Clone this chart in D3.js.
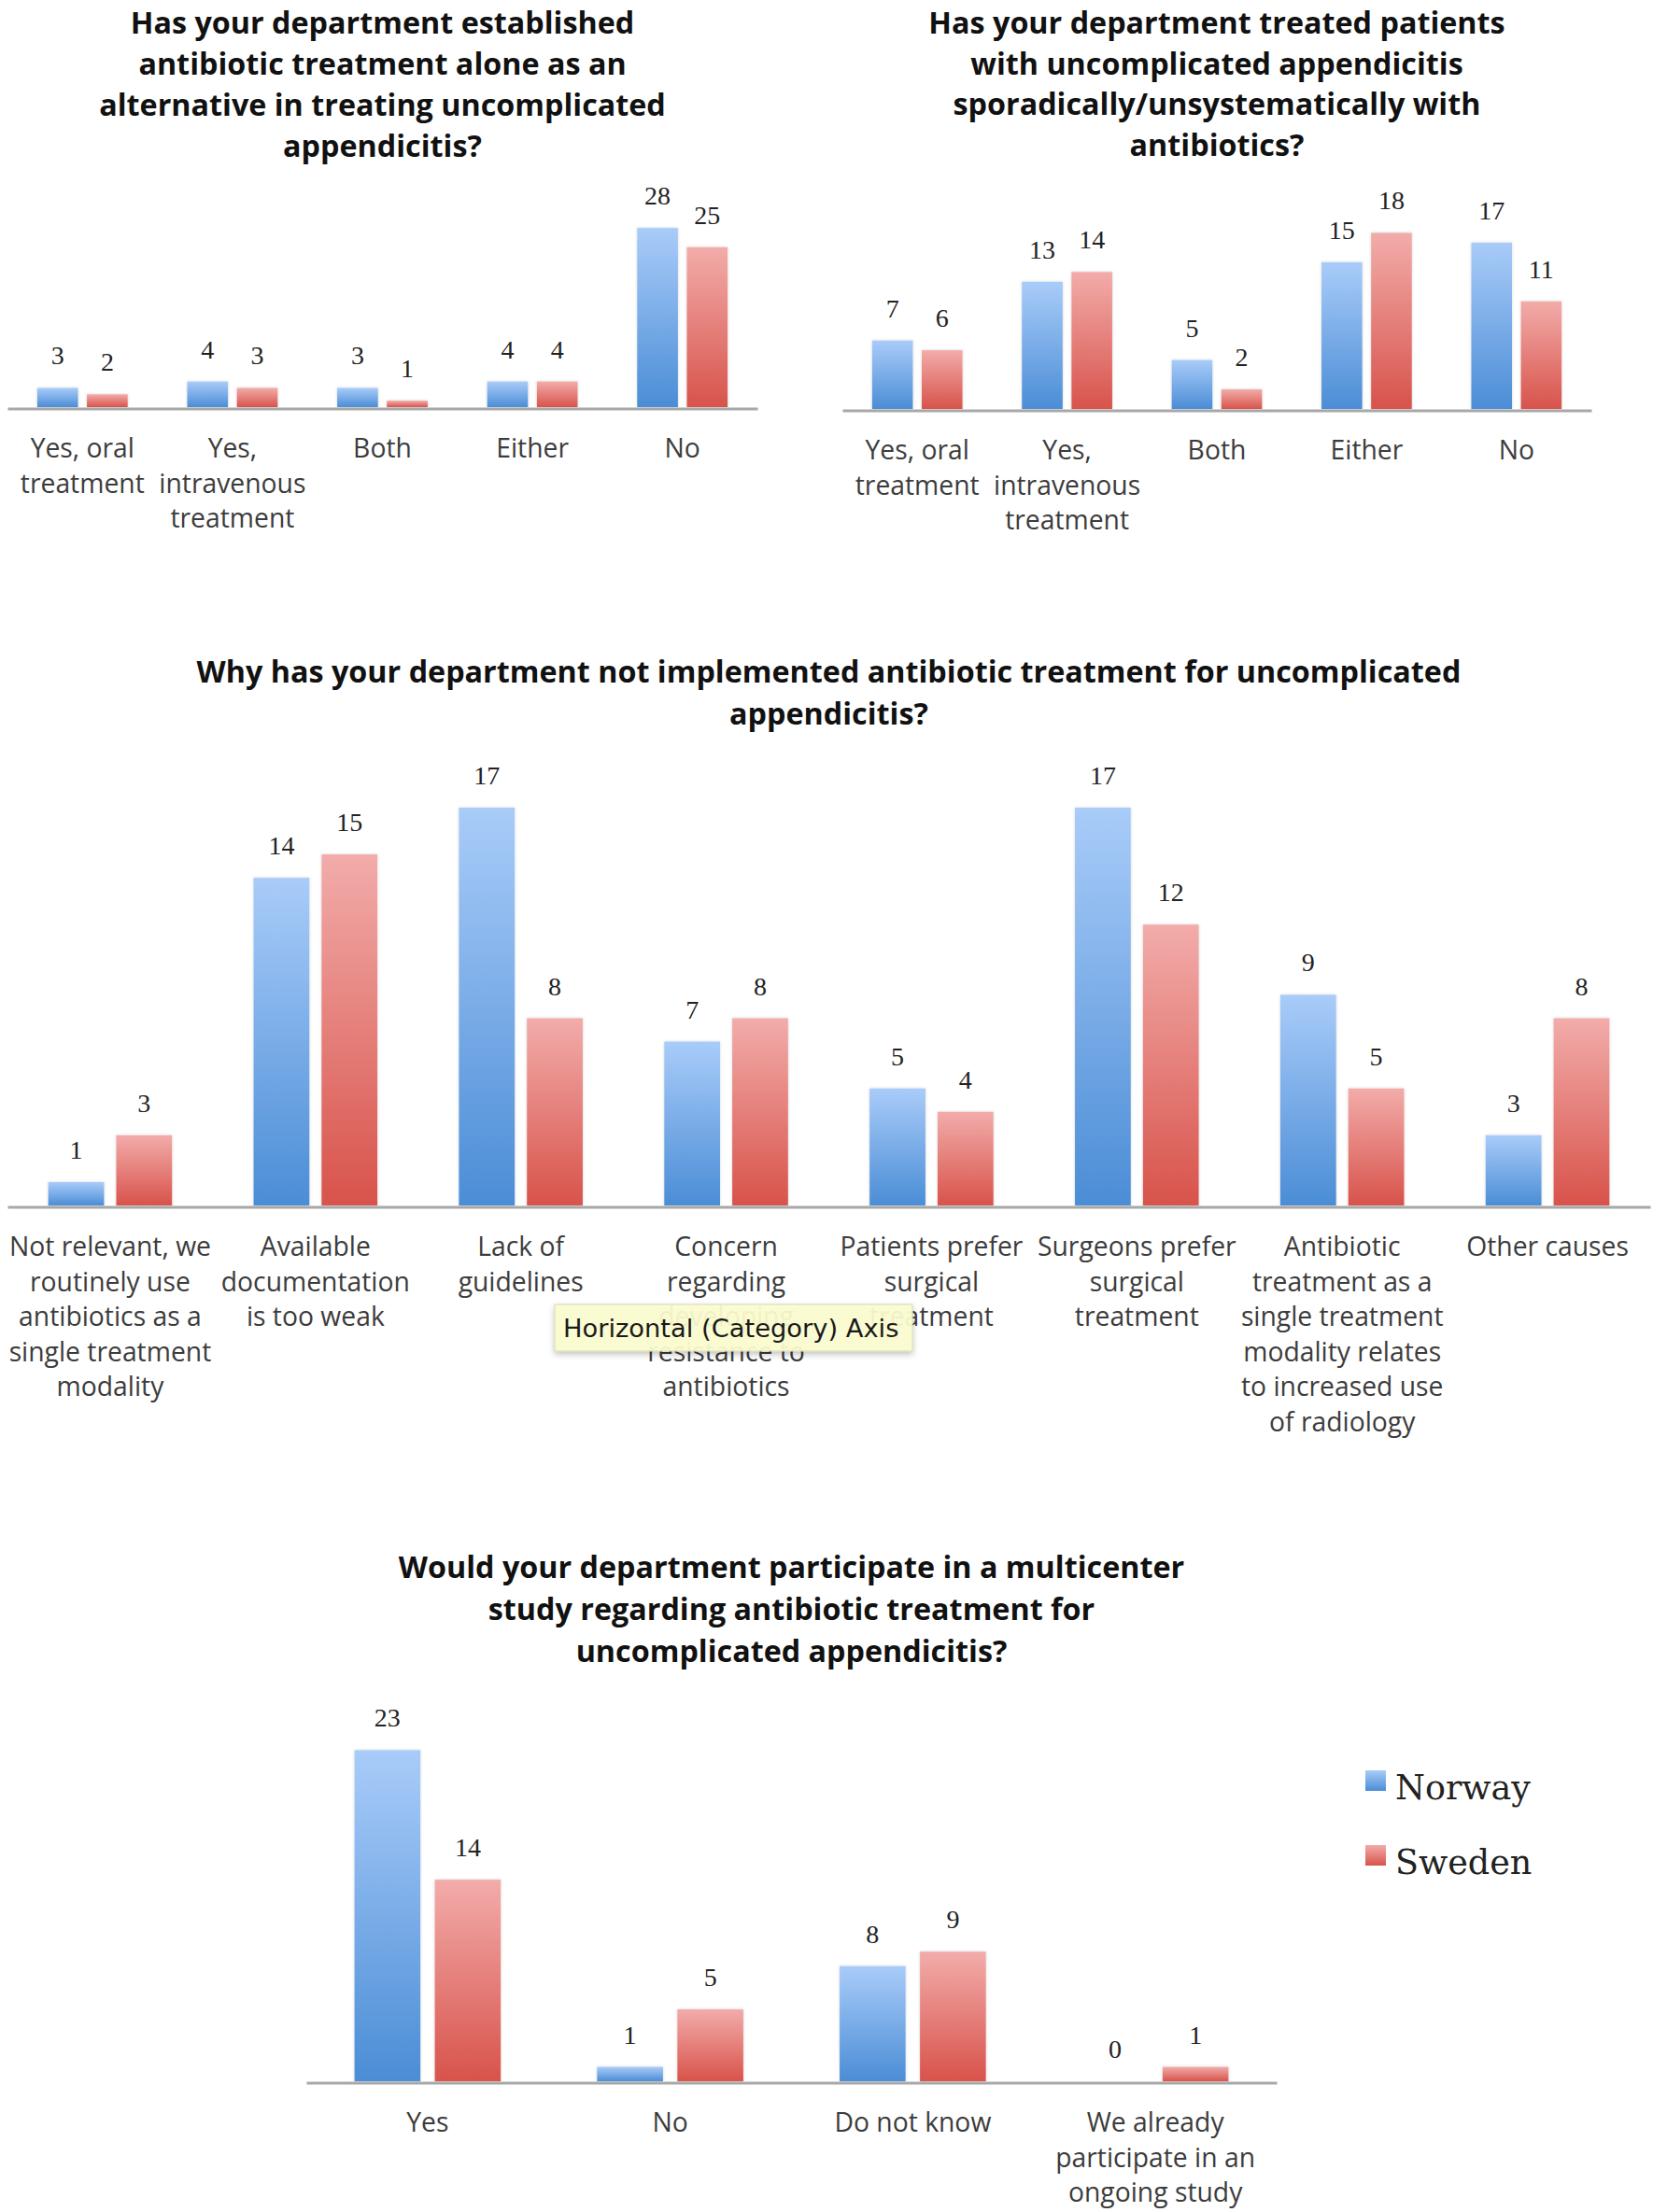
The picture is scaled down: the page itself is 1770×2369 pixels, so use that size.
<!DOCTYPE html>
<html>
<head>
<meta charset="utf-8">
<script src="https://cdn.jsdelivr.net/npm/d3@7"></script>
<style>
  html, body { margin: 0; padding: 0; background: #ffffff; }
  svg { display: block; }
</style>
</head>
<body>
<svg id="chart" width="1770" height="2369"></svg>
<script>
// ---------------- DATA ----------------
const seriesNames = ["Norway", "Sweden"];

const q1Title = ["Has your department established", "antibiotic treatment alone as an",
                 "alternative in treating uncomplicated", "appendicitis?"];
const q1Categories = ["Yes, oral\ntreatment", "Yes,\nintravenous\ntreatment", "Both", "Either", "No"];
const q1Norway = [3, 4, 3, 4, 28];
const q1Sweden = [2, 3, 1, 4, 25];

const q2Title = ["Has your department treated patients", "with uncomplicated appendicitis",
                 "sporadically/unsystematically with", "antibiotics?"];
const q2Categories = ["Yes, oral\ntreatment", "Yes,\nintravenous\ntreatment", "Both", "Either", "No"];
const q2Norway = [7, 13, 5, 15, 17];
const q2Sweden = [6, 14, 2, 18, 11];

const q3Title = ["Why has your department not implemented antibiotic treatment for uncomplicated",
                 "appendicitis?"];
const q3Categories = [
  "Not relevant, we\nroutinely use\nantibiotics as a\nsingle treatment\nmodality",
  "Available\ndocumentation\nis too weak",
  "Lack of\nguidelines",
  "Concern\nregarding\ndeveloping\nresistance to\nantibiotics",
  "Patients prefer\nsurgical\ntreatment",
  "Surgeons prefer\nsurgical\ntreatment",
  "Antibiotic\ntreatment as a\nsingle treatment\nmodality relates\nto increased use\nof radiology",
  "Other causes"
];
const q3Norway = [1, 14, 17, 7, 5, 17, 9, 3];
const q3Sweden = [3, 15, 8, 8, 4, 12, 5, 8];

const q4Title = ["Would your department participate in a multicenter",
                 "study regarding antibiotic treatment for", "uncomplicated appendicitis?"];
const q4Categories = ["Yes", "No", "Do not know", "We already\nparticipate in an\nongoing study"];
const q4Norway = [23, 1, 8, 0];
const q4Sweden = [14, 5, 9, 1];

const tooltipText = "Horizontal (Category) Axis";

// ---------------- LAYOUT ----------------
const charts = [
  { title: q1Title, cats: q1Categories, vals: [q1Norway, q1Sweden],
    x0: 8, x1: 811, base: 436, yMax: 30, top: 230.5, titleY: 36, titleStep: 44 },
  { title: q2Title, cats: q2Categories, vals: [q2Norway, q2Sweden],
    x0: 902, x1: 1704, base: 438, yMax: 20, top: 228.4, titleY: 36, titleStep: 43.5 },
  { title: q3Title, cats: q3Categories, vals: [q3Norway, q3Sweden],
    x0: 8, x1: 1767, base: 1291, yMax: 18, top: 839.9, titleY: 731, titleStep: 45 },
  { title: q4Title, cats: q4Categories, vals: [q4Norway, q4Sweden],
    x0: 328, x1: 1367, base: 2229, yMax: 25, top: 1843.5, titleY: 1690, titleStep: 45 }
];

const svg = d3.select("#chart");
const defs = svg.append("defs");
const gradStops = {
  Norway: ["#a9ccf9", "#4b8dd6"],
  Sweden: ["#f2acaa", "#d8534b"]
};
seriesNames.forEach(s => {
  const g = defs.append("linearGradient").attr("id", "grad-" + s)
    .attr("x1", 0).attr("y1", 0).attr("x2", 0).attr("y2", 1);
  g.append("stop").attr("offset", "0%").attr("stop-color", gradStops[s][0]);
  g.append("stop").attr("offset", "100%").attr("stop-color", gradStops[s][1]);
});
const f = defs.append("filter").attr("id", "barShadow")
  .attr("x", "-20%").attr("y", "-20%").attr("width", "140%").attr("height", "140%");
f.append("feDropShadow").attr("dx", 0).attr("dy", 0).attr("stdDeviation", 1.5)
  .attr("flood-color", "#000").attr("flood-opacity", 0.18);
const f2 = defs.append("filter").attr("id", "tipShadow")
  .attr("x", "-10%").attr("y", "-30%").attr("width", "120%").attr("height", "180%");
f2.append("feDropShadow").attr("dx", 0).attr("dy", 3).attr("stdDeviation", 3)
  .attr("flood-color", "#000").attr("flood-opacity", 0.25);

const titleFont = "'Open Sans', sans-serif";
const labelFont = "'Open Sans', sans-serif";
const valueFont = "'Liberation Serif', 'Times New Roman', serif";

charts.forEach((c, ci) => {
  const g = svg.append("g");
  const data = c.cats.map((cat, i) => ({ cat, i, vals: seriesNames.map((s, k) => ({ s, v: c.vals[k][i] })) }));

  const x = d3.scaleBand().domain(d3.range(c.cats.length)).range([c.x0, c.x1]).padding(0);
  const xs = d3.scaleBand().domain(seriesNames).range([0, x.bandwidth()])
    .paddingInner(0.18).paddingOuter(0.6);
  const y = d3.scaleLinear().domain([0, c.yMax]).range([c.base, c.top]);

  // title
  const cx = (c.x0 + c.x1) / 2;
  g.append("text")
    .attr("x", cx).attr("y", c.titleY)
    .attr("text-anchor", "middle")
    .style("font-family", titleFont).style("font-weight", 700).style("font-size", "32.3px")
    .style("fill", "#111")
    .selectAll("tspan").data(c.title).join("tspan")
    .attr("x", cx).attr("dy", (d, i) => i === 0 ? 0 : c.titleStep)
    .text(d => d);

  // bars
  const groups = g.selectAll("g.cat").data(data).join("g").attr("class", "cat")
    .attr("transform", d => `translate(${x(d.i)},0)`);
  groups.selectAll("rect").data(d => d.vals.filter(v => v.v > 0)).join("rect")
    .attr("x", d => xs(d.s))
    .attr("width", xs.bandwidth())
    .attr("y", d => y(d.v))
    .attr("height", d => y(0) - y(d.v))
    .attr("fill", d => `url(#grad-${d.s})`)
    .attr("filter", "url(#barShadow)");

  // value labels
  groups.selectAll("text.val").data(d => d.vals).join("text").attr("class", "val")
    .attr("x", d => xs(d.s) + xs.bandwidth() / 2)
    .attr("y", d => y(d.v) - 25)
    .attr("text-anchor", "middle")
    .style("font-family", valueFont).style("font-size", "28px").style("fill", "#222")
    .text(d => d.v);

  // axis line
  const axis = d3.axisBottom(x).tickSize(0).tickSizeOuter(0).tickFormat("");
  const ag = g.append("g").attr("transform", `translate(0,${c.base + 1.5})`).call(axis);
  ag.select(".domain").attr("stroke", "#a8a8a8").attr("stroke-width", 3);

  // category labels
  groups.append("text").attr("class", "cat-label")
    .attr("x", x.bandwidth() / 2)
    .attr("y", c.base + 54)
    .attr("text-anchor", "middle")
    .style("font-family", labelFont).style("font-size", "28.3px").style("fill", "#3c3c3c")
    .selectAll("tspan").data(d => d.cat.split("\n")).join("tspan")
    .attr("x", x.bandwidth() / 2).attr("dy", (d, i) => i === 0 ? 0 : 37.5)
    .text(d => d);
});

// tooltip overlay (as in the screenshot)
const tip = svg.append("g").attr("transform", "translate(594,1397)");
tip.append("rect").attr("width", 383).attr("height", 50)
  .attr("fill", "#fdfdd0").attr("fill-opacity", 0.93)
  .attr("stroke", "#d8d8b0").attr("stroke-width", 1)
  .attr("filter", "url(#tipShadow)");
tip.append("text").attr("x", 9).attr("y", 35)
  .style("font-family", "'DejaVu Sans', sans-serif").style("font-size", "27.3px").style("fill", "#1a1a1a")
  .text(tooltipText);

// legend
const legend = svg.append("g").attr("transform", "translate(1462,1896)");
const li = legend.selectAll("g").data(seriesNames).join("g")
  .attr("transform", (d, i) => `translate(0,${i * 80})`);
li.append("rect").attr("width", 22).attr("height", 22)
  .attr("fill", d => `url(#grad-${d})`);
li.append("text").attr("x", 32).attr("y", 31)
  .style("font-family", "'DejaVu Serif', serif").style("font-size", "36.5px").style("fill", "#222")
  .text(d => d);
</script>
</body>
</html>
